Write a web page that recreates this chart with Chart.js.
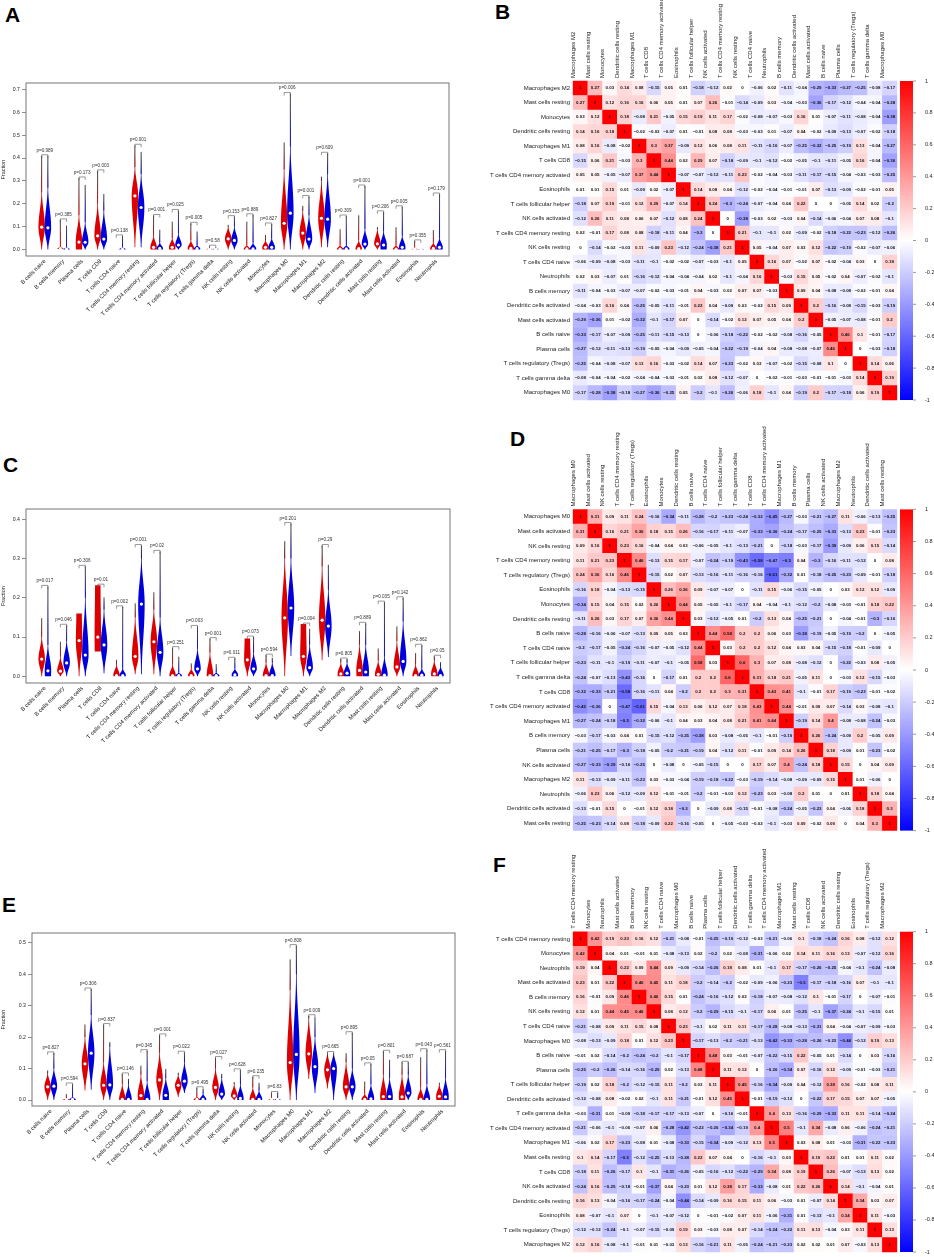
<!DOCTYPE html>
<html>
<head>
<meta charset="utf-8">
<script src="https://cdn.jsdelivr.net/npm/chart.js@4.4.0/dist/chart.umd.min.js"></script>
<style>
  body { margin: 0; background: #fff; width: 934px; height: 1257px; position: relative; overflow: hidden; }
  .panel { position: absolute; }
  .letter { position: absolute; font: bold 21px "Liberation Sans", Arial, sans-serif; line-height: 1; color: #000; }
</style>
</head>
<body>
<div class="letter" style="left:5px;top:4px">A</div>
<div class="letter" style="left:495px;top:1px">B</div>
<div class="letter" style="left:3px;top:454px">C</div>
<div class="letter" style="left:510px;top:428px">D</div>
<div class="letter" style="left:2px;top:894px">E</div>
<div class="letter" style="left:493px;top:854px">F</div>

<div class="panel" style="left:0;top:0;width:460px;height:320px"><canvas id="violinA"></canvas></div>
<div class="panel" style="left:0;top:430px;width:460px;height:320px"><canvas id="violinC"></canvas></div>
<div class="panel" style="left:0;top:860px;width:460px;height:320px"><canvas id="violinE"></canvas></div>
<div class="panel" style="left:460px;top:0;width:474px;height:410px"><canvas id="heatB"></canvas></div>
<div class="panel" style="left:460px;top:420px;width:474px;height:420px"><canvas id="heatD"></canvas></div>
<div class="panel" style="left:460px;top:840px;width:474px;height:417px"><canvas id="heatF"></canvas></div>

<script>
// === Violin data (A, C, E) ===
const cellTypes = ["B cells naive", "B cells memory", "Plasma cells", "T cells CD8", "T cells CD4 naive",
  "T cells CD4 memory resting", "T cells CD4 memory activated", "T cells follicular helper",
  "T cells regulatory (Tregs)", "T cells gamma delta", "NK cells resting", "NK cells activated", "Monocytes",
  "Macrophages M0", "Macrophages M1", "Macrophages M2", "Dendritic cells resting", "Dendritic cells activated",
  "Mast cells resting", "Mast cells activated", "Eosinophils", "Neutrophils"];

const aTicks = [0, 0.1, 0.2, 0.3, 0.4, 0.5, 0.6, 0.7];
const aPValues = ["0.989", "0.385", "0.173", "0.003", "0.138", "0.001", "0.001", "0.025", "0.005", "0.58", "0.153",
  "0.889", "0.827", "0.006", "0.001", "0.609", "0.309", "0.001", "0.206", "0.005", "0.355", "0.179"];
const aRedMax = [0.41, 0.13, 0.313, 0.344, 0, 0.456, 0.149, 0.122, 0.115, 0.015, 0.108, 0.122, 0.064, 0.468, 0.191, 0.319, 0.089, 0.15, 0.098, 0.098, 0.038, 0.085];
const aRedMed = [0.098, 0.004, 0.033, 0.06, 0, 0.235, 0.01, 0.01, 0.005, 0.002, 0.047, 0.003, 0.01, 0.115, 0.072, 0.137, 0.002, 0.004, 0.025, 0.002, 0.002, 0.005];
const aRedMin = [0, 0, 0, 0, 0, 0.01, 0, 0, 0, 0, 0, 0, 0, 0, 0, 0.01, 0, 0, 0, 0, 0, 0];
const aRedBody = [0.25, 0.012, 0.15, 0.2, 0, 0.36, 0.06, 0.05, 0.04, 0.005, 0.1, 0.02, 0.04, 0.35, 0.17, 0.3, 0.02, 0.04, 0.09, 0.02, 0.004, 0.03];
const aBlueMax = [0.41, 0.105, 0.283, 0.243, 0.06, 0.427, 0.087, 0.171, 0.079, 0.01, 0.144, 0.152, 0.112, 0.682, 0.232, 0.421, 0.147, 0.278, 0.165, 0.187, 0.005, 0.243];
const aBlueMed = [0.095, 0.002, 0.032, 0.046, 0.002, 0.184, 0.005, 0.02, 0.004, 0.002, 0.04, 0.003, 0.01, 0.159, 0.046, 0.133, 0.003, 0.024, 0.02, 0.01, 0.002, 0.01];
const aBlueMin = [0, 0, 0, 0, 0, 0.01, 0, 0, 0, 0, 0, 0, 0, 0, 0, 0.01, 0, 0, 0, 0, 0, 0];
const aBlueBody = [0.27, 0.01, 0.12, 0.17, 0.01, 0.33, 0.03, 0.07, 0.02, 0.005, 0.1, 0.03, 0.05, 0.45, 0.15, 0.33, 0.02, 0.09, 0.08, 0.06, 0.004, 0.05];

const cTicks = [0, 0.1, 0.2, 0.3, 0.4];
const cPValues = ["0.017", "0.046", "0.306", "0.01", "0.002", "0.001", "0.02", "0.251", "0.003", "0.001", "0.011",
  "0.073", "0.594", "0.201", "0.004", "0.29", "0.805", "0.889", "0.035", "0.142", "0.862", "0.05"];
const cRedMax = [0.148, 0.088, 0.16, 0.232, 0.042, 0.186, 0.214, 0.073, 0.033, 0.096, 0, 0.096, 0.054, 0.344, 0.133, 0.333, 0.044, 0.115, 0.071, 0.127, 0.059, 0.051];
const cRedMed = [0.044, 0.013, 0.091, 0.1, 0.002, 0.051, 0.088, 0.002, 0.002, 0.002, 0, 0.042, 0.002, 0.149, 0.051, 0.143, 0.006, 0.015, 0.005, 0.024, 0.002, 0.006];
const cRedMin = [0, 0, 0, 0.063, 0, 0.005, 0.005, 0, 0, 0, 0, 0, 0, 0, 0, 0.041, 0, 0, 0, 0, 0, 0];
const cRedBody = [0.1, 0.05, 0.16, 0.232, 0.03, 0.15, 0.17, 0.03, 0.02, 0.06, 0, 0.096, 0.035, 0.3, 0.133, 0.28, 0.035, 0.08, 0.04, 0.09, 0.03, 0.04];
const cBlueMax = [0.229, 0.13, 0.28, 0.201, 0.177, 0.333, 0.318, 0.05, 0.127, 0.031, 0.046, 0.1, 0.047, 0.389, 0.121, 0.284, 0.044, 0.135, 0.189, 0.2, 0.079, 0.036];
const cBlueMed = [0.014, 0.034, 0.054, 0.08, 0.002, 0.184, 0.061, 0.002, 0.019, 0.002, 0.004, 0.019, 0.002, 0.174, 0.022, 0.128, 0.008, 0.011, 0.003, 0.038, 0.003, 0.002];
const cBlueMin = [0, 0, 0, 0.008, 0, 0.005, 0, 0, 0, 0, 0, 0, 0, 0.052, 0, 0.049, 0, 0, 0, 0, 0, 0];
const cBlueBody = [0.08, 0.09, 0.2, 0.17, 0.02, 0.3, 0.15, 0.01, 0.07, 0.01, 0.02, 0.06, 0.035, 0.3, 0.08, 0.22, 0.035, 0.08, 0.05, 0.14, 0.02, 0.025];

const eTicks = [0, 0.1, 0.2, 0.3, 0.4, 0.5];
const ePValues = ["0.827", "0.594", "0.306", "0.837", "0.146", "0.345", "0.001", "0.022", "0.495", "0.027", "0.628",
  "0.235", "0.83", "0.808", "0.009", "0.665", "0.895", "0.05", "0.801", "0.687", "0.043", "0.561"];
const eRedMax = [0.094, 0.019, 0.24, 0.24, 0.083, 0.109, 0.207, 0.087, 0.039, 0.135, 0.057, 0.074, 0.024, 0.447, 0.268, 0.151, 0.149, 0.059, 0.155, 0.12, 0.136, 0.055];
const eRedMed = [0.042, 0.001, 0.115, 0.047, 0.002, 0.014, 0.064, 0.047, 0.002, 0.04, 0.013, 0.002, 0.002, 0.119, 0.147, 0.096, 0.042, 0.002, 0.011, 0.01, 0.002, 0.012];
const eRedMin = [0, 0, 0.03, 0, 0, 0, 0, 0.01, 0, 0, 0, 0, 0, 0, 0.067, 0.037, 0, 0, 0, 0, 0, 0];
const eRedBody = [0.085, 0.005, 0.2, 0.12, 0.05, 0.08, 0.15, 0.08, 0.01, 0.1, 0.05, 0.04, 0.005, 0.35, 0.26, 0.15, 0.12, 0.02, 0.08, 0.08, 0.04, 0.05];
const eBlueMax = [0.15, 0.051, 0.353, 0.184, 0.067, 0.157, 0.099, 0.152, 0.035, 0.083, 0.096, 0.055, 0.024, 0.491, 0.263, 0.151, 0.214, 0.115, 0.128, 0.12, 0.16, 0.157];
const eBlueMed = [0.044, 0.002, 0.149, 0.048, 0.002, 0.002, 0.015, 0.06, 0.002, 0.019, 0.005, 0.002, 0.002, 0.145, 0.106, 0.1, 0.042, 0.004, 0.011, 0.022, 0.002, 0.01];
const eBlueMin = [0, 0, 0.033, 0, 0, 0, 0, 0.022, 0, 0, 0, 0, 0, 0, 0.022, 0, 0, 0, 0, 0, 0, 0];
const eBlueBody = [0.1, 0.01, 0.27, 0.17, 0.05, 0.06, 0.07, 0.12, 0.02, 0.07, 0.05, 0.03, 0.005, 0.4, 0.2, 0.15, 0.1, 0.05, 0.07, 0.08, 0.05, 0.07];

// === Correlation data (B, D, F): upper triangle, row i starts right after the diagonal ===
const bLabels = ["Macrophages M2", "Mast cells resting", "Monocytes", "Dendritic cells resting", "Macrophages M1",
  "T cells CD8", "T cells CD4 memory activated", "Eosinophils", "T cells follicular helper", "NK cells activated",
  "T cells CD4 memory resting", "NK cells resting", "T cells CD4 naive", "Neutrophils", "B cells memory",
  "Dendritic cells activated", "Mast cells activated", "B cells naive", "Plasma cells", "T cells regulatory (Tregs)",
  "T cells gamma delta", "Macrophages M0"];
const bUpper = [
  [0.27, 0.03, 0.14, 0.08, -0.15, 0.05, 0.01, -0.18, -0.12, 0.02, 0, -0.06, 0.02, -0.11, -0.04, -0.29, -0.33, -0.27, -0.25, -0.08, -0.17],
  [0.12, 0.16, 0.16, 0.06, 0.05, 0.01, 0.07, 0.26, -0.01, -0.14, -0.09, 0.03, -0.04, -0.03, -0.36, -0.17, -0.12, -0.04, -0.04, -0.28],
  [0.18, -0.08, 0.21, -0.05, 0.15, 0.19, 0.11, 0.17, -0.02, -0.08, -0.07, -0.03, 0.16, 0.01, -0.07, -0.11, -0.08, -0.04, -0.38],
  [-0.02, -0.03, -0.07, 0.01, -0.01, 0.08, 0.08, -0.03, -0.03, 0.01, -0.07, 0.04, -0.02, -0.09, -0.13, -0.07, -0.02, -0.18],
  [0.3, 0.37, -0.09, 0.12, 0.06, 0.08, 0.11, -0.11, -0.16, -0.07, -0.25, -0.32, -0.25, -0.19, 0.13, -0.04, -0.27],
  [0.44, 0.02, 0.29, 0.07, -0.18, -0.09, -0.1, -0.12, -0.02, -0.05, -0.1, -0.11, -0.05, 0.16, -0.04, -0.36],
  [-0.07, -0.07, -0.12, -0.11, 0.23, -0.02, -0.04, -0.03, -0.11, -0.17, -0.15, -0.04, -0.03, -0.03, -0.25],
  [0.14, 0.08, 0.04, -0.12, -0.02, -0.04, -0.01, -0.01, 0.07, -0.13, -0.09, -0.02, -0.01, 0.05],
  [0.24, -0.3, -0.24, -0.07, -0.04, 0.04, 0.22, 0, 0, -0.05, 0.14, 0.02, -0.2],
  [0, -0.38, -0.03, 0.02, -0.03, 0.04, -0.14, -0.06, -0.04, 0.07, 0.08, -0.1],
  [0.21, -0.1, -0.1, 0.02, -0.09, -0.02, -0.18, -0.22, -0.23, -0.12, -0.26],
  [0.05, -0.04, 0.07, 0.03, 0.12, -0.22, -0.19, -0.02, -0.07, -0.06],
  [0.16, 0.07, -0.02, 0.07, -0.02, -0.04, 0.03, 0, 0.18],
  [-0.03, 0.15, 0.05, -0.02, 0.04, -0.07, -0.02, -0.1],
  [0.09, 0.04, -0.08, -0.08, -0.02, -0.01, 0.04],
  [0.2, -0.16, -0.08, -0.15, -0.03, -0.19],
  [-0.05, -0.07, -0.08, -0.01, 0.2],
  [0.46, 0.1, -0.01, -0.17],
  [0, -0.03, -0.18],
  [0.14, 0.06],
  [0.19]
];

const dLabels = ["Macrophages M0", "Mast cells activated", "NK cells resting", "T cells CD4 memory resting",
  "T cells regulatory (Tregs)", "Eosinophils", "Monocytes", "Dendritic cells resting", "B cells naive",
  "T cells CD4 naive", "T cells follicular helper", "T cells gamma delta", "T cells CD8",
  "T cells CD4 memory activated", "Macrophages M1", "B cells memory", "Plasma cells", "NK cells activated",
  "Macrophages M2", "Neutrophils", "Dendritic cells activated", "Mast cells resting"];
const dUpper = [
  [0.31, 0.09, 0.11, 0.24, -0.16, -0.34, -0.11, -0.28, -0.2, -0.23, -0.24, -0.32, -0.45, -0.27, -0.03, -0.21, -0.27, 0.11, -0.06, -0.13, -0.25],
  [0.16, 0.21, 0.36, 0.18, 0.15, 0.26, -0.16, -0.17, -0.11, -0.07, -0.33, -0.36, -0.24, -0.17, -0.25, -0.33, -0.13, 0.23, -0.01, -0.23],
  [0.23, 0.16, -0.04, 0.04, 0.03, -0.06, -0.05, -0.1, -0.13, -0.21, 0, -0.18, -0.03, -0.17, -0.39, -0.09, 0.06, 0.15, -0.14],
  [0.46, -0.13, 0.15, 0.17, -0.07, -0.24, -0.19, -0.43, -0.58, -0.47, -0.5, 0.04, -0.3, -0.16, -0.11, -0.12, 0, 0.08],
  [-0.15, 0.02, 0.07, -0.13, -0.16, -0.11, -0.16, -0.16, -0.61, -0.32, 0.01, -0.18, -0.25, -0.23, -0.09, -0.01, -0.18],
  [0.26, 0.36, 0.09, -0.07, -0.07, 0, -0.11, 0.15, -0.06, -0.15, -0.05, 0, 0.03, 0.12, 0.12, -0.09],
  [0.44, 0.05, -0.05, -0.1, -0.17, 0.04, -0.04, -0.1, -0.12, -0.2, -0.08, -0.03, -0.01, 0.18, 0.22],
  [0.03, -0.12, -0.05, 0.01, -0.2, 0.13, 0.04, -0.25, -0.21, 0, -0.04, -0.01, -0.3, -0.16],
  [0.44, 0.58, 0.2, 0.2, 0.06, 0.03, -0.38, -0.19, -0.05, -0.19, -0.2, 0, -0.05],
  [0.03, 0.2, 0.2, 0.12, 0.04, 0.03, 0.04, -0.15, -0.18, -0.01, -0.09, 0],
  [0.6, 0.3, 0.07, 0.08, -0.08, -0.12, 0, -0.22, -0.03, 0.08, -0.05],
  [0.31, 0.18, 0.21, -0.05, 0.11, 0, -0.03, 0.12, -0.15, -0.03],
  [0.43, 0.41, -0.1, -0.01, 0.17, -0.19, -0.23, -0.01, -0.02],
  [0.44, -0.01, 0.09, 0.07, -0.14, 0.03, -0.08, -0.1],
  [-0.19, 0.14, 0.4, -0.08, -0.08, -0.24, -0.03],
  [0.26, -0.24, -0.09, 0.2, -0.05, 0.09],
  [0.18, -0.09, 0.01, -0.23, -0.02],
  [0.15, 0, 0.04, 0.09],
  [0.01, -0.06, 0],
  [0.18, 0.04],
  [0.3]
];

const fLabels = ["T cells CD4 memory resting", "Monocytes", "Neutrophils", "Mast cells activated", "B cells memory",
  "NK cells resting", "T cells CD4 naive", "Macrophages M0", "B cells naive", "Plasma cells",
  "T cells follicular helper", "Dendritic cells activated", "T cells gamma delta", "T cells CD4 memory activated",
  "Macrophages M1", "Mast cells resting", "T cells CD8", "NK cells activated", "Dendritic cells resting",
  "Eosinophils", "T cells regulatory (Tregs)", "Macrophages M2"];
const fUpper = [
  [0.42, 0.19, 0.23, 0.16, 0.12, -0.21, -0.08, -0.01, -0.25, -0.19, -0.12, -0.03, -0.21, -0.06, 0.1, -0.18, -0.24, 0.16, 0.08, -0.12, 0.12],
  [0.04, 0.01, -0.01, 0.01, -0.08, -0.13, 0.02, -0.2, 0.02, -0.08, -0.31, -0.06, 0.02, 0.14, 0.11, 0.16, 0.13, -0.07, -0.12, 0.16],
  [0.22, 0.09, 0.44, 0.09, -0.09, -0.14, -0.26, 0.18, 0.08, 0.01, -0.1, 0.17, -0.17, -0.26, -0.25, -0.04, -0.1, -0.24, -0.08],
  [0.46, 0.45, 0.11, 0.18, -0.2, -0.14, -0.2, -0.02, -0.09, -0.06, -0.23, -0.5, -0.17, -0.18, -0.16, 0.07, -0.1, -0.1],
  [0.46, 0.15, 0.01, -0.24, -0.16, -0.12, 0.02, -0.18, -0.07, -0.08, -0.12, 0.1, -0.01, -0.17, 0, -0.07, -0.01],
  [0.08, 0.12, -0.2, -0.29, -0.15, -0.1, -0.17, 0.06, 0.01, -0.25, -0.1, -0.37, -0.24, -0.1, -0.15, 0.01],
  [0.23, -0.1, 0.02, 0.11, 0.11, -0.17, -0.28, -0.08, -0.13, -0.31, 0.04, -0.04, -0.07, -0.09, -0.03],
  [-0.17, -0.13, -0.2, -0.21, -0.13, -0.42, -0.33, -0.28, -0.26, -0.23, -0.44, -0.12, 0.19, 0.13],
  [0.48, 0.03, -0.01, -0.07, -0.22, -0.15, 0.22, -0.05, 0.01, -0.14, 0, 0.03, -0.16],
  [0.11, 0.12, 0, -0.26, -0.34, 0.07, -0.16, 0.12, -0.09, -0.01, -0.03, -0.21],
  [0.45, -0.16, -0.34, -0.09, 0.04, -0.12, 0.38, 0.16, -0.02, 0.08, 0.11],
  [-0.01, -0.19, -0.12, 0, -0.22, 0.17, 0.15, 0.07, 0.07, -0.05],
  [0.4, 0.13, -0.16, -0.29, -0.33, 0.11, 0.11, -0.14, -0.24],
  [0.5, -0.1, 0.34, -0.08, 0.06, -0.06, -0.24, -0.21],
  [0.03, 0.08, 0.01, -0.03, -0.31, -0.22, -0.23],
  [0.19, 0.22, 0.01, 0.01, 0.11, 0.02],
  [0.26, -0.07, -0.13, 0.13, 0.02],
  [0.14, -0.1, -0.04, 0.01],
  [0.34, 0.03, 0.07],
  [0.11, -0.03],
  [0.13]
];
const colorbarTicks = [1, 0.8, 0.6, 0.4, 0.2, 0, -0.2, -0.4, -0.6, -0.8, -1];

// === Shared setup ===
const FONT = '"Liberation Sans", Arial, sans-serif';
Chart.defaults.font.family = FONT;
Chart.defaults.color = '#222';
const RED = '#dd0000';
const BLUE = '#0000dd';

// force an axis to an exact thickness and drop its label overhang padding
const fitTo = size => s => {
  if (s.isHorizontal()) s.height = size; else s.width = size;
  s.paddingTop = 0; s.paddingBottom = 0; s.paddingLeft = 0; s.paddingRight = 0;
};

// === Violin panels ===
function violinWidth(knots, v) {
  for (let k = 0; k < knots.length - 1; k++) {
    const [a, wa] = knots[k];
    const [b, wb] = knots[k + 1];
    if (v <= b || k === knots.length - 2) {
      if (b - a <= 1e-9) return wb;
      const t = Math.min(Math.max((v - a) / (b - a), 0), 1);
      return wa + (wb - wa) * (1 - Math.cos(Math.PI * t)) / 2;
    }
  }
  return 0;
}

function drawViolin(ctx, xs, ys, xc, lo, med, body, max, color) {
  if (max <= 0) return;
  med = Math.min(Math.max(med, lo), max);
  body = Math.min(Math.max(body, med), max);
  const flatTop = body >= max - 1e-9;
  const baseW = (med - lo) <= 0.25 * (body - lo) + 1e-9 ? 0.95 : 0.12;
  const knots = [[lo, baseW], [med, 1], [body, flatTop ? 0.85 : 0.1], [max, flatTop ? 0.8 : 0]];
  const xPix = xs.getPixelForValue(xc);
  const halfW = xs.getPixelForValue(xc + 0.52) - xPix;
  const steps = 60;
  const left = [], right = [];
  for (let s = 0; s <= steps; s++) {
    const v = lo + (max - lo) * s / steps;
    const w = violinWidth(knots, v) * halfW;
    const y = ys.getPixelForValue(v);
    left.push([xPix - w, y]);
    right.push([xPix + w, y]);
  }
  const y0 = ys.getPixelForValue(lo), y1 = ys.getPixelForValue(max);
  const grad = ctx.createLinearGradient(0, y0, 0, y1 - 0.01);
  const f = max > lo ? (body - lo) / (max - lo) : 1;
  grad.addColorStop(0, color);
  grad.addColorStop(Math.min(f * 0.85, 1), color);
  if (f < 1) grad.addColorStop(1, '#111');
  ctx.save();
  ctx.beginPath();
  left.forEach(([x, y], k) => k ? ctx.lineTo(x, y) : ctx.moveTo(x, y));
  for (let k = right.length - 1; k >= 0; k--) ctx.lineTo(right[k][0], right[k][1]);
  ctx.closePath();
  ctx.fillStyle = grad;
  ctx.fill();
  if (!flatTop) {
    ctx.beginPath();
    ctx.moveTo(xPix, ys.getPixelForValue(body));
    ctx.lineTo(xPix, y1);
    ctx.strokeStyle = grad;
    ctx.lineWidth = 0.8;
    ctx.stroke();
  }
  ctx.restore();
}

function violinPanel(id, box, yRange, yTicks, red, blue, pValues) {
  const plugin = {
    id: 'violins',
    beforeDatasetsDraw(chart) {
      const { ctx, scales: { x, y } } = chart;
      cellTypes.forEach((c, i) => {
        drawViolin(ctx, x, y, 3 * i + 1, red.min[i], red.med[i], red.body[i], red.max[i], RED);
        drawViolin(ctx, x, y, 3 * i + 2, blue.min[i], blue.med[i], blue.body[i], blue.max[i], BLUE);
      });
    },
    afterDatasetsDraw(chart) {
      const { ctx, scales: { x, y } } = chart;
      ctx.save();
      ctx.strokeStyle = '#555';
      ctx.lineWidth = 0.6;
      ctx.fillStyle = '#333';
      ctx.font = '4.6px ' + FONT;
      ctx.textAlign = 'center';
      ctx.textBaseline = 'bottom';
      cellTypes.forEach((c, i) => {
        const top = Math.max(red.max[i], blue.max[i]);
        const yb = y.getPixelForValue(top) - 1;
        const xr = x.getPixelForValue(3 * i + 1), xb = x.getPixelForValue(3 * i + 2);
        ctx.beginPath();
        ctx.moveTo(xr, yb + 3); ctx.lineTo(xr, yb); ctx.lineTo(xb, yb); ctx.lineTo(xb, yb + 3);
        ctx.stroke();
        ctx.fillText('p=' + pValues[i], (xr + xb) / 2, yb - 2);
      });
      const a = chart.chartArea;
      ctx.strokeStyle = '#777';
      ctx.lineWidth = 1;
      ctx.strokeRect(a.left, a.top, a.right - a.left, a.bottom - a.top);
      ctx.restore();
    }
  };

  new Chart(document.getElementById(id), {
    type: 'scatter',
    data: {
      datasets: [
        { data: cellTypes.map((c, i) => ({ x: 3 * i + 1, y: red.max[i] > 0 ? red.med[i] : null })),
          pointRadius: 1.6, backgroundColor: '#fff', borderWidth: 0 },
        { data: cellTypes.map((c, i) => ({ x: 3 * i + 2, y: blue.max[i] > 0 ? blue.med[i] : null })),
          pointRadius: 1.6, backgroundColor: '#fff', borderWidth: 0 }
      ]
    },
    options: {
      responsive: true, maintainAspectRatio: false, animation: false, events: [],
      layout: { padding: { top: box.top, right: box.right, left: 0, bottom: 0 } },
      plugins: { legend: { display: false }, tooltip: { enabled: false } },
      scales: {
        x: {
          type: 'linear', min: -1.52, max: 66.52,
          afterBuildTicks: s => { s.ticks = cellTypes.map((c, i) => ({ value: 3 * i + 1.5 })); },
          ticks: { autoSkip: false, minRotation: 45, maxRotation: 45, padding: 2, font: { size: 5.8 },
                   callback: (v, i) => cellTypes[i] },
          grid: { display: false, drawTicks: false }, border: { display: false },
          afterFit: fitTo(box.xAxis)
        },
        y: {
          type: 'linear', min: yRange[0], max: yRange[1],
          afterBuildTicks: s => { s.ticks = yTicks.map(v => ({ value: v })); },
          ticks: { padding: 2, font: { size: 5.2 }, callback: v => v.toFixed(1) },
          grid: { display: true, drawOnChartArea: false, drawTicks: true, tickLength: 4, color: '#444', lineWidth: 0.6 },
          border: { display: false },
          title: { display: true, text: 'Fraction', font: { size: 5.5 }, padding: 0 },
          afterFit: fitTo(box.yAxis)
        }
      }
    },
    plugins: [plugin]
  });
}

violinPanel('violinA', { top: 83, right: 11, xAxis: 64, yAxis: 26 }, [-0.028, 0.728], aTicks,
  { max: aRedMax, med: aRedMed, min: aRedMin, body: aRedBody },
  { max: aBlueMax, med: aBlueMed, min: aBlueMin, body: aBlueBody }, aPValues);
violinPanel('violinC', { top: 79, right: 10, xAxis: 67, yAxis: 26 }, [-0.017, 0.426], cTicks,
  { max: cRedMax, med: cRedMed, min: cRedMin, body: cRedBody },
  { max: cBlueMax, med: cBlueMed, min: cBlueMin, body: cBlueBody }, cPValues);
violinPanel('violinE', { top: 73, right: 5, xAxis: 74, yAxis: 32 }, [-0.019, 0.531], eTicks,
  { max: eRedMax, med: eRedMed, min: eRedMin, body: eRedBody },
  { max: eBlueMax, med: eBlueMed, min: eBlueMin, body: eBlueBody }, ePValues);

// === Correlation heatmaps ===
function corrColor(v) {
  if (v >= 0) { const g = Math.round(255 * (1 - v)); return `rgb(255,${g},${g})`; }
  const g = Math.round(255 * (1 + v)); return `rgb(${g},${g},255)`;
}
const fmtCorr = v => (v === 1 ? '1' : String(v).replace('-', '\u2212'));

function heatmap(id, labels, upper, box) {
  const n = labels.length;
  const m = labels.map((r, i) => labels.map((c, j) => {
    if (i === j) return 1;
    return i < j ? upper[i][j - i - 1] : upper[j][i - j - 1];
  }));
  const cells = [];
  labels.forEach((r, i) => labels.forEach((c, j) => cells.push({ x: c, y: r, v: m[i][j] })));

  const plugin = {
    id: 'corrText',
    afterDatasetsDraw(chart) {
      const { ctx } = chart;
      const meta = chart.getDatasetMeta(0);
      ctx.save();
      ctx.font = 'bold 4.4px ' + FONT;
      ctx.fillStyle = '#111';
      ctx.textAlign = 'center';
      ctx.textBaseline = 'middle';
      meta.data.forEach((el, k) => ctx.fillText(fmtCorr(cells[k].v), el.x, el.y));
      ctx.restore();
    },
    afterDraw(chart) {
      const { ctx, chartArea: a } = chart;
      const cs = chart.scales.c;
      const top = cs.getPixelForValue(1), bottom = cs.getPixelForValue(-1);
      const x0 = a.right + 3, w = 13;
      const grad = ctx.createLinearGradient(0, top, 0, bottom);
      grad.addColorStop(0, corrColor(1));
      grad.addColorStop(0.5, corrColor(0));
      grad.addColorStop(1, corrColor(-1));
      ctx.save();
      ctx.fillStyle = grad;
      ctx.fillRect(x0, top, w, bottom - top);
      ctx.strokeStyle = '#555';
      ctx.lineWidth = 0.6;
      colorbarTicks.forEach(v => {
        const y = cs.getPixelForValue(v);
        ctx.beginPath(); ctx.moveTo(x0 + w, y); ctx.lineTo(x0 + w + 3, y); ctx.stroke();
      });
      ctx.restore();
    }
  };

  new Chart(document.getElementById(id), {
    type: 'scatter',
    data: {
      datasets: [{
        data: cells,
        pointStyle: 'rect',
        borderWidth: 0,
        backgroundColor: c => corrColor(c.raw ? c.raw.v : 0),
        pointRadius: c => {
          const a = c.chart.chartArea;
          if (!a) return 5;
          return Math.max(a.right - a.left, a.bottom - a.top) / n / Math.SQRT2 + 0.25;
        }
      }]
    },
    options: {
      responsive: true, maintainAspectRatio: false, animation: false, events: [],
      layout: { padding: { top: 0, left: 0, right: 0, bottom: box.bottom } },
      plugins: { legend: { display: false }, tooltip: { enabled: false } },
      scales: {
        x: {
          type: 'category', labels, position: 'top', offset: true,
          grid: { display: false, drawTicks: false }, border: { display: false },
          ticks: { autoSkip: false, minRotation: 90, maxRotation: 90, padding: 3, font: { size: 6 }, color: '#222' },
          afterFit: fitTo(box.top)
        },
        y: {
          type: 'category', labels, offset: true,
          grid: { display: false, drawTicks: false }, border: { display: false },
          ticks: { autoSkip: false, padding: 3, font: { size: 6 }, color: '#222' },
          afterFit: fitTo(113)
        },
        c: {
          type: 'linear', axis: 'y', position: 'right', min: -1, max: 1,
          afterBuildTicks: s => { s.ticks = colorbarTicks.map(v => ({ value: v })); },
          grid: { display: false, drawTicks: false }, border: { display: false },
          ticks: { padding: 28, font: { size: 5.5 }, color: '#222', callback: v => String(Math.round(v * 10) / 10) },
          afterFit: fitTo(37)
        }
      }
    },
    plugins: [plugin]
  });
}

heatmap('heatB', bLabels, bUpper, { top: 81, bottom: 10 });
heatmap('heatD', dLabels, dUpper, { top: 89.4, bottom: 9.4 });
heatmap('heatF', fLabels, fUpper, { top: 91.7, bottom: 4 });
</script>
</body>
</html>
